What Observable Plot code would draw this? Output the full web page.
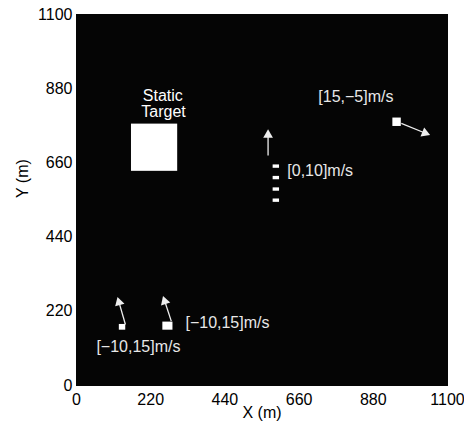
<!DOCTYPE html>
<html>
<head>
<meta charset="utf-8">
<script src="https://cdn.jsdelivr.net/npm/d3@7"></script>
<script src="https://cdn.jsdelivr.net/npm/@observablehq/plot@0.6"></script>
<style>
  html, body { margin: 0; padding: 0; background: white; }
  #chart { width: 464px; height: 426px; }
</style>
</head>
<body>
<div id="chart"></div>
<script>
// Axis ticks
const xTicks = [0, 220, 440, 660, 880, 1100];
const yTicks = [0, 220, 440, 660, 880, 1100];

// Static target extent (m)
const targetX1 = [163], targetX2 = [300], targetY1 = [635], targetY2 = [775];

// Moving vehicles (rectangles in data units)
const vehX1 = [127, 256, 938, 583, 583, 583, 583];
const vehX2 = [146, 286, 963, 602, 602, 602, 602];
const vehY1 = [164, 164, 768, 644, 610, 576, 543];
const vehY2 = [181, 188, 793, 654, 620, 586, 553];

// Velocity arrows (start -> tip)
const arrX1 = [145, 281, 568, 963];
const arrY1 = [181, 191, 682, 777];
const arrX2 = [122, 257, 568, 1047];
const arrY2 = [261, 264, 758, 743];

// Annotations
const labText = ["[15,\u22125]m/s", "[0,10]m/s", "[\u221210,15]m/s", "[\u221210,15]m/s"];
const labX = [717, 625, 323, 59];
const labY = [857, 637, 185, 114];
const staticText = ["Static", "Target"];
const staticX = [256, 258];
const staticY = [860, 812];

const xLabel = ["X (m)"];
const yLabel = ["Y (m)"];

const idx = (n) => d3.range(n);
// arrow head direction helpers (equal x/y scales)
const ang = i => Math.atan2(arrX2[i] - arrX1[i], arrY2[i] - arrY1[i]);
const back = 15; // metres behind the tip for the head centroid

const chart = Plot.plot({
  width: 464,
  height: 426,
  marginLeft: 76,
  marginRight: 17,
  marginTop: 14,
  marginBottom: 41,
  style: { fontFamily: "'Liberation Sans', Arial, Helvetica, sans-serif", fontSize: "16px", background: "white", color: "black" },
  x: { domain: [0, 1100], ticks: xTicks, tickSize: 0, tickPadding: 8, label: null, tickFormat: d => String(d) },
  y: { domain: [0, 1100], ticks: yTicks, tickSize: 0, tickPadding: 4, label: null, tickFormat: d => String(d) },
  marks: [
    Plot.frame({ fill: "#050505", stroke: "#050505" }),
    Plot.rect(idx(1), { x1: i => targetX1[i], x2: i => targetX2[i], y1: i => targetY1[i], y2: i => targetY2[i], fill: "white" }),
    Plot.rect(idx(vehX1.length), { x1: i => vehX1[i], x2: i => vehX2[i], y1: i => vehY1[i], y2: i => vehY2[i], fill: "white" }),
    Plot.link(idx(arrX1.length), { x1: i => arrX1[i], y1: i => arrY1[i], x2: i => arrX2[i] - back * Math.sin(ang(i)), y2: i => arrY2[i] - back * Math.cos(ang(i)), stroke: "#eeeeee", strokeWidth: 1.3 }),
    Plot.dot(idx(arrX1.length), { x: i => arrX2[i] - back * Math.sin(ang(i)), y: i => arrY2[i] - back * Math.cos(ang(i)), symbol: "triangle", r: 3.6, fill: "#eeeeee", stroke: "none", rotate: i => ang(i) * 180 / Math.PI }),
    Plot.text(idx(labText.length), { x: i => labX[i], y: i => labY[i], text: i => labText[i], textAnchor: "start", fill: "#e8e8e8", fontSize: 16 }),
    Plot.text(idx(staticText.length), { x: i => staticX[i], y: i => staticY[i], text: i => staticText[i], textAnchor: "middle", fill: "white", fontSize: 16 }),
    Plot.text(xLabel, { frameAnchor: "bottom", dy: 32, text: d => d, fill: "black", fontSize: 16 }),
    Plot.text(yLabel, { frameAnchor: "left", dx: -54, dy: -2, rotate: -90, text: d => d, fill: "black", fontSize: 16 })
  ]
});
document.getElementById("chart").appendChild(chart);
</script>
</body>
</html>
